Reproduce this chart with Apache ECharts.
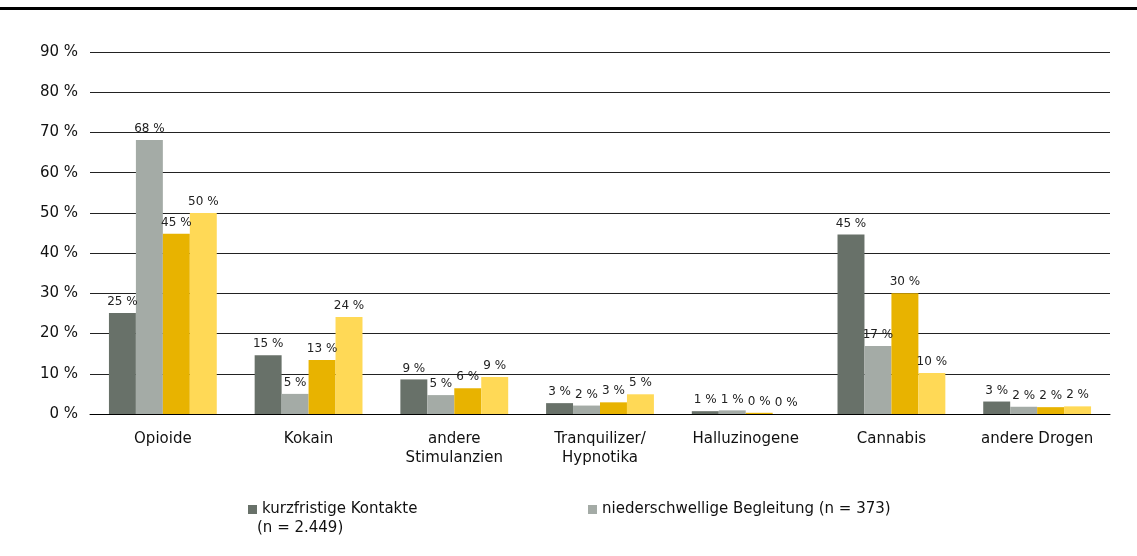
<!DOCTYPE html>
<html>
<head>
<meta charset="utf-8">
<script src="https://cdn.jsdelivr.net/npm/echarts@6/dist/echarts.min.js"></script>
<style>
html,body{margin:0;padding:0;background:#fff;}
#chart{width:1137px;height:556px;}
</style>
</head>
<body>
<div id="chart"></div>
<script>
// Kategorien
var categories = ['Opioide', 'Kokain', 'andere\nStimulanzien', 'Tranquilizer/\nHypnotika', 'Halluzinogene', 'Cannabis', 'andere Drogen'];
var yTicks = [0, 10, 20, 30, 40, 50, 60, 70, 80, 90];

// Werte in Prozent
var kurzfristig = [25.1, 14.6, 8.6, 2.7, 0.7, 44.6, 3.1];
var niederschwellig = [68.1, 5.0, 4.7, 2.1, 0.9, 16.9, 1.8];
var serie3 = [44.8, 13.4, 6.4, 2.9, 0.3, 30.0, 1.7];
var serie4 = [50.0, 24.1, 9.2, 4.9, 0.0, 10.2, 1.9];

var seriesNames = ['kurzfristige Kontakte\n(n = 2.449)', 'niederschwellige Begleitung (n = 373)', 'Serie 3', 'Serie 4'];
var colors = ['#687169', '#a4aba6', '#e8b300', '#ffd956'];

var font = 'DejaVu Sans';

function mkSeries(name, data, color){
	return {
		name: name,
		type: 'bar',
		data: data,
		barGap: '0%',
		barCategoryGap: '26%',
		itemStyle: {color: color},
		label: {
			show: true,
			position: 'top',
			distance: 5,
			color: '#222',
			fontFamily: font,
			fontSize: 12,
			formatter: function(p){ return Math.round(p.value) + ' %'; }
		}
	};
}

var chart = echarts.init(document.getElementById('chart'));
var option = {
	animation: false,
	graphic: [{
		type: 'rect',
		shape: {x: 0, y: 7, width: 1137, height: 3},
		style: {fill: '#000'}
	}, {
		type: 'text',
		left: 257, top: 521,
		style: {text: '(n = 2.449)', font: '15px "DejaVu Sans"', fill: '#111'}
	}],
	grid: {left: 90, right: 27, top: 52, bottom: 142, containLabel: false},
	legend: [{
		left: 243, top: 497,
		data: [seriesNames[0]],
		icon: 'rect', itemWidth: 9, itemHeight: 9, itemGap: 3,
		formatter: function(n){ return n.split('\n')[0]; },
		textStyle: {fontFamily: font, fontSize: 15, color: '#111'}
	}, {
		left: 583, top: 497,
		data: [seriesNames[1]],
		icon: 'rect', itemWidth: 9, itemHeight: 9, itemGap: 3,
		textStyle: {fontFamily: font, fontSize: 15, color: '#111'}
	}],
	xAxis: {
		type: 'category',
		data: categories,
		axisTick: {show: false},
		axisLine: {lineStyle: {color: '#000', width: 1}},
		axisLabel: {interval: 0, fontFamily: font, fontSize: 15, color: '#111', margin: 16, lineHeight: 19}
	},
	yAxis: {
		type: 'value',
		min: 0, max: 90, interval: 10,
		axisLabel: {fontFamily: font, fontSize: 15, color: '#111', margin: 12,
			formatter: function(v){ return yTicks.indexOf(v) >= 0 ? v + ' %' : ''; }},
		axisLine: {show: false},
		axisTick: {show: false},
		splitLine: {lineStyle: {color: '#222', width: 1}}
	},
	series: [
		mkSeries(seriesNames[0], kurzfristig, colors[0]),
		mkSeries(seriesNames[1], niederschwellig, colors[1]),
		mkSeries(seriesNames[2], serie3, colors[2]),
		mkSeries(seriesNames[3], serie4, colors[3])
	]
};
chart.setOption(option);
</script>
</body>
</html>
